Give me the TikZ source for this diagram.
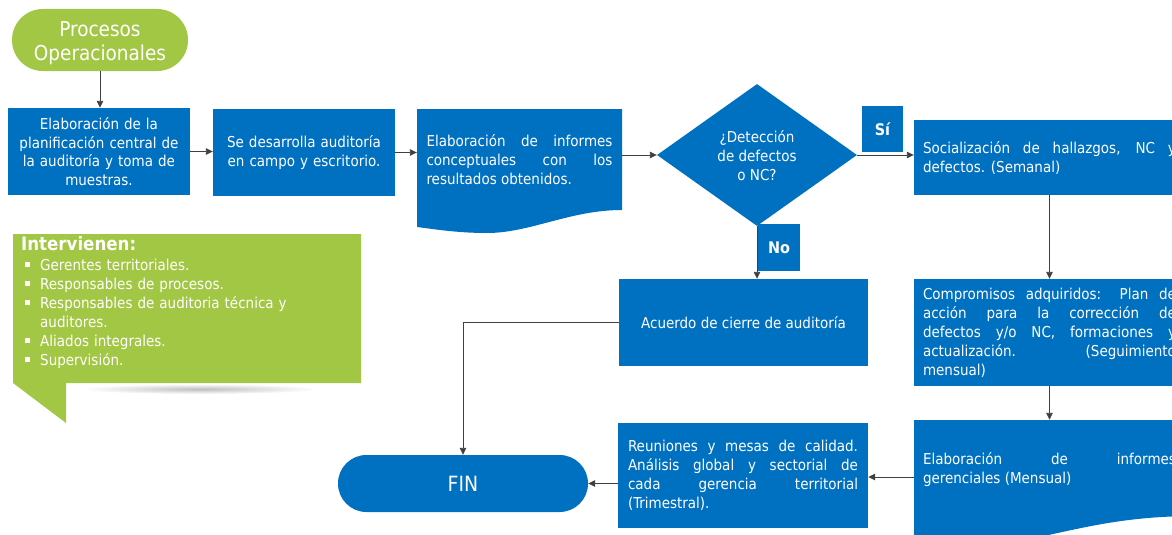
\documentclass[tikz,border=0pt]{standalone}
\usepackage{fontspec}
\setmainfont{DejaVu Sans Condensed}
\usetikzlibrary{shapes.geometric,arrows.meta,backgrounds}
\definecolor{bl}{HTML}{0070C0}
\definecolor{gr}{HTML}{A2C745}
\definecolor{ar}{HTML}{404040}
\newcommand{\mybul}{\makebox[19pt][l]{\hspace{4pt}\raisebox{3.5pt}{\rule{4.5pt}{4.5pt}}}}
\begin{document}
\begin{tikzpicture}[x=1pt,y=-1pt,
 box/.style={fill=bl, text=white, inner sep=0pt, align=center, font=\fontsize{15}{18.7}\selectfont},
 jtext/.style={text=white, inner sep=0pt, align=justify, font=\fontsize{15}{19}\selectfont},
 lab/.style={fill=bl, text=white, inner sep=0pt, font=\fontsize{16}{18}\selectfont\bfseries},
 pill/.style={inner sep=0pt, text=white, align=center, font=\fontsize{20.5}{24}\selectfont},
 arr/.style={draw=ar, line width=0.9pt, -{Triangle[length=7pt,width=6.5pt]}},
 ln/.style={draw=ar, line width=0.9pt}]
\useasboundingbox (0,0) rectangle (1172,535);
\clip (0,0) rectangle (1172,535);

% start
\node[pill, fill=gr, minimum width=176pt, minimum height=62pt, rounded corners=30.9pt] (start) at (100,40) {};
\node[pill] (startT) at (100,43) {Procesos\\Operacionales};

% first row
\node[box, minimum width=182pt, minimum height=87pt, text width=172pt] (b1) at (99,151.5)
 {Elaboración de la\\planificación central de\\la auditoría y toma de\\muestras.};
\node[box, minimum width=182pt, minimum height=87pt, text width=172pt] (b2) at (304,152.5)
 {Se desarrolla auditoría\\en campo y escritorio.};

\node[jtext, minimum width=205pt, minimum height=102pt, text width=186pt] (doc) at (519.5,160)
 {\tolerance=10000 Elaboración de informes\linebreak conceptuales con los\linebreak resultados obtenidos.};
\begin{pgfonlayer}{background}
\fill[bl] (417,109) -- (622,109) -- (622,210) .. controls (570,210) and (530,233) .. (487,233)
  .. controls (460,233) and (440,230) .. (417,227) -- cycle;
\end{pgfonlayer}

\node[diamond, fill=bl, minimum width=200pt, minimum height=142pt, inner sep=0pt] (dia) at (757,155) {};
\node[text=white, align=center, inner sep=0pt, font=\fontsize{15}{19}\selectfont] (diaT) at (757,156)
 {¿Detección\\de defectos\\o NC?};

\node[lab, minimum width=41pt, minimum height=46pt] (si) at (882.5,129) {Sí};
\node[lab, minimum width=42pt, minimum height=47pt] (no) at (779,247.5) {No};

\node[jtext, fill=bl, minimum width=271pt, minimum height=75pt, text width=253pt] (soc) at (1049.5,157.5)
 {\tolerance=10000 Socialización de hallazgos, NC y\linebreak defectos. (Semanal)};

\node[box, minimum width=249pt, minimum height=87pt] (acu) at (743.5,322.5)
 {Acuerdo de cierre de auditoría};

\node[jtext, fill=bl, minimum width=271pt, minimum height=107pt, text width=253pt] (comp) at (1049.5,332.5)
 {\tolerance=10000 Compromisos adquiridos: Plan de\linebreak acción para la corrección de\linebreak defectos y/o NC, formaciones y\linebreak actualización. (Seguimiento\linebreak mensual)};

\node[jtext, minimum width=271pt, minimum height=100pt, text width=253pt] (ger) at (1049.5,470)
 {\tolerance=10000 Elaboración de informes\linebreak gerenciales (Mensual)};
\begin{pgfonlayer}{background}
\fill[bl] (914,420) -- (1190,420) -- (1190,516) .. controls (1110,517) and (1070,532) .. (1000,545)
  -- (914,552) -- cycle;
\end{pgfonlayer}

\node[jtext, fill=bl, minimum width=250pt, minimum height=105pt, text width=230pt] (reu) at (743,475.5)
 {\tolerance=10000 Reuniones y mesas de calidad.\linebreak Análisis global y sectorial de\linebreak cada gerencia territorial\linebreak (Trimestral).};

\node[pill, fill=bl, minimum width=250pt, minimum height=57pt, rounded corners=28.4pt,
  font=\fontsize{21}{24}\selectfont] (fin) at (463,483.5) {FIN};

% callout
\shade[inner color=black!25, outer color=white] (200,389) ellipse [x radius=118, y radius=5];
\fill[gr] (13,234) -- (361,234) -- (361,383) -- (66,383) -- (66,423) -- (13,383) -- cycle;
\node[anchor=north west, inner sep=0pt, text width=335pt, align=left, text=white,
  font=\fontsize{15}{19}\selectfont] (interv) at (21,236)
 {{\fontsize{18.5}{19}\selectfont\bfseries Intervienen:}\\[1pt]
  \mybul Gerentes territoriales.\\
  \mybul Responsables de procesos.\\
  \mybul Responsables de auditoria técnica y\\
  \hspace*{19pt}auditores.\\
  \mybul Aliados integrales.\\
  \mybul Supervisión.};

% connectors
\draw[arr] (start.south) -- (start.south |- b1.north);
\draw[arr] (b1.east) -- (b1.east -| b2.west);
\draw[arr] (b2.east) -- (b2.east -| doc.west);
\draw[arr] (dia.west -| doc.east) -- (dia.west);
\draw[arr] (dia.east) -- (dia.east -| soc.west);
\draw[arr] (soc.south) -- (comp.north);
\draw[arr] (dia.south) -- (dia.south |- acu.north);
\draw[arr] (acu.west) -| (fin.north);
\draw[arr] (comp.south) -- (ger.north);
\draw[arr] ([yshift=-7pt]ger.west) -- ([yshift=-7pt]ger.west -| reu.east);
\draw[arr] (fin.east -| reu.west) -- (fin.east);
\end{tikzpicture}
\end{document}
